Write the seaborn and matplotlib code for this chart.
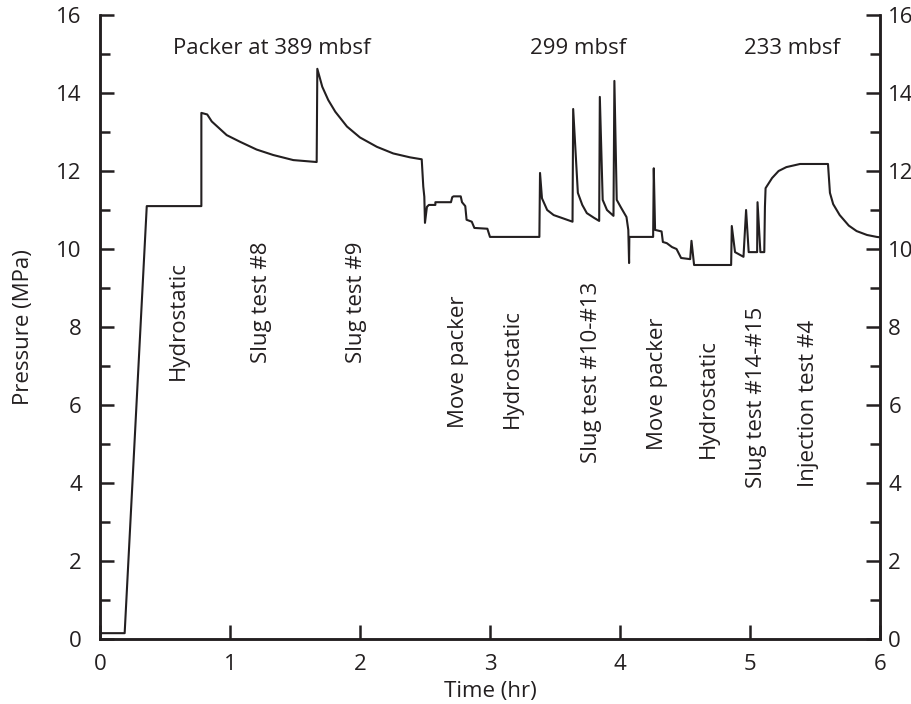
import matplotlib
matplotlib.use("Agg")
import matplotlib.pyplot as plt
from matplotlib.ticker import MultipleLocator
import pandas as pd
import seaborn as sns

# pressure record (time in hours, pressure in MPa)
time_hr = [0.0, 0.19, 0.36, 0.78, 0.78, 0.825, 0.86, 0.975, 1.077, 1.205, 1.333, 1.487, 1.667,
           1.672, 1.71, 1.756, 1.81, 1.90, 2.0, 2.13, 2.256, 2.385, 2.475, 2.487, 2.495, 2.5,
           2.515, 2.53, 2.58, 2.58, 2.70, 2.71, 2.72, 2.775, 2.785, 2.81, 2.82, 2.86, 2.88, 2.98,
           3.0, 3.38,
           3.385, 3.40, 3.44, 3.49, 3.55, 3.635,
           3.64, 3.676, 3.71, 3.745, 3.80, 3.84,
           3.845, 3.867, 3.90, 3.95,
           3.957, 3.975, 4.01, 4.05, 4.064, 4.07, 4.072, 4.255,
           4.26, 4.27, 4.32, 4.33, 4.36, 4.40, 4.435, 4.47, 4.54, 4.55, 4.57, 4.855,
           4.86, 4.885, 4.95, 4.97, 4.99, 5.055, 5.058, 5.08, 5.11, 5.115, 5.12, 5.17, 5.22,
           5.28, 5.385, 5.60, 5.615, 5.64, 5.69, 5.76, 5.82, 5.90, 5.975, 6.0]
pressure_mpa = [0.15, 0.15, 11.1, 11.1, 13.49, 13.45, 13.27, 12.92, 12.75, 12.55, 12.41, 12.28, 12.23,
                14.62, 14.16, 13.82, 13.52, 13.14, 12.86, 12.62, 12.45, 12.35, 12.30, 11.6, 11.34, 10.67,
                11.08, 11.13, 11.13, 11.2, 11.2, 11.33, 11.35, 11.35, 11.2, 11.1, 10.75, 10.7, 10.54, 10.52,
                10.31, 10.31,
                11.95, 11.3, 11.0, 10.87, 10.8, 10.7,
                13.59, 11.44, 11.13, 10.92, 10.8, 10.72,
                13.9, 11.26, 11.0, 10.85,
                14.31, 11.26, 11.05, 10.82, 10.49, 9.64, 10.31, 10.31,
                12.07, 10.49, 10.45, 10.18, 10.15, 10.05, 10.0, 9.77, 9.74, 10.21, 9.59, 9.59,
                10.59, 9.92, 9.8, 11.0, 9.92, 9.92, 11.2, 9.92, 9.92, 11.08, 11.56, 11.82, 12.0,
                12.1, 12.18, 12.18, 11.44, 11.15, 10.87, 10.6, 10.46, 10.36, 10.31, 10.3]

# test phases written vertically under the curve (x = hour, y = where the text starts)
phase_names = ["Hydrostatic", "Slug test #8", "Slug test #9", "Move packer", "Hydrostatic",
               "Slug test #10-#13", "Move packer", "Hydrostatic", "Slug test #14-#15",
               "Injection test #4"]
phase_x = [0.60, 1.24, 1.97, 2.76, 3.17, 3.78, 4.285, 4.68, 5.05, 5.45]
phase_bottom = [6.64, 7.08, 7.08, 5.41, 5.41, 4.51, 4.85, 4.64, 3.87, 3.90]

# packer depths along the top
depth_names = ["Packer at 389 mbsf", "299 mbsf", "233 mbsf"]
depth_x = [1.32, 3.68, 5.32]
depth_y = 15.15

df = pd.DataFrame({"Time": time_hr, "Pressure": pressure_mpa})

sns.set_theme(style="ticks")
plt.rcParams["font.family"] = ["Open Sans", "DejaVu Sans"]
ink = "#231f20"
fs = 16

fig = plt.figure(figsize=(9.12, 7.04), dpi=100)
ax = fig.add_axes([0.1096, 0.0923, 0.8553, 0.8864])

sns.lineplot(data=df, x="Time", y="Pressure", sort=False, estimator=None,
             color=ink, linewidth=1.5, ax=ax)

for name, x, y in zip(phase_names, phase_x, phase_bottom):
    ax.text(x, y, name, rotation=90, ha="center", va="bottom", fontsize=fs, color=ink)
for name, x in zip(depth_names, depth_x):
    ax.text(x, depth_y, name, ha="center", va="center", fontsize=fs, color=ink)

ax.set_xlim(0, 6)
ax.set_ylim(0, 16)
ax.xaxis.set_major_locator(MultipleLocator(1))
ax.yaxis.set_major_locator(MultipleLocator(2))
ax.yaxis.set_minor_locator(MultipleLocator(1))
ax.tick_params(axis="both", which="both", direction="in", colors=ink, labelsize=fs, width=1.8)
ax.tick_params(axis="both", which="major", length=10)
ax.tick_params(axis="y", which="minor", length=7.2)
ax.tick_params(axis="y", which="both", pad=13)
ax.tick_params(axis="x", which="both", top=False, pad=11)

# right-hand pressure scale
ax2 = ax.twinx()
ax2.set_ylim(0, 16)
ax2.yaxis.set_major_locator(MultipleLocator(2))
ax2.yaxis.set_minor_locator(MultipleLocator(1))
ax2.tick_params(axis="y", which="both", direction="in", colors=ink, labelsize=fs, width=1.8, pad=6)
ax2.tick_params(axis="y", which="major", length=10)
ax2.tick_params(axis="y", which="minor", length=7.2)
ax2.grid(False)

for a in (ax, ax2):
    a.spines["top"].set_visible(False)
    for side in ["left", "right", "bottom"]:
        a.spines[side].set_linewidth(1.8)
        a.spines[side].set_color(ink)

ax.set_xlabel("Time (hr)", fontsize=fs, color=ink, labelpad=4)
ax.set_ylabel("Pressure (MPa)", fontsize=fs, color=ink, labelpad=16)

fig.savefig("out.png", dpi=100)
